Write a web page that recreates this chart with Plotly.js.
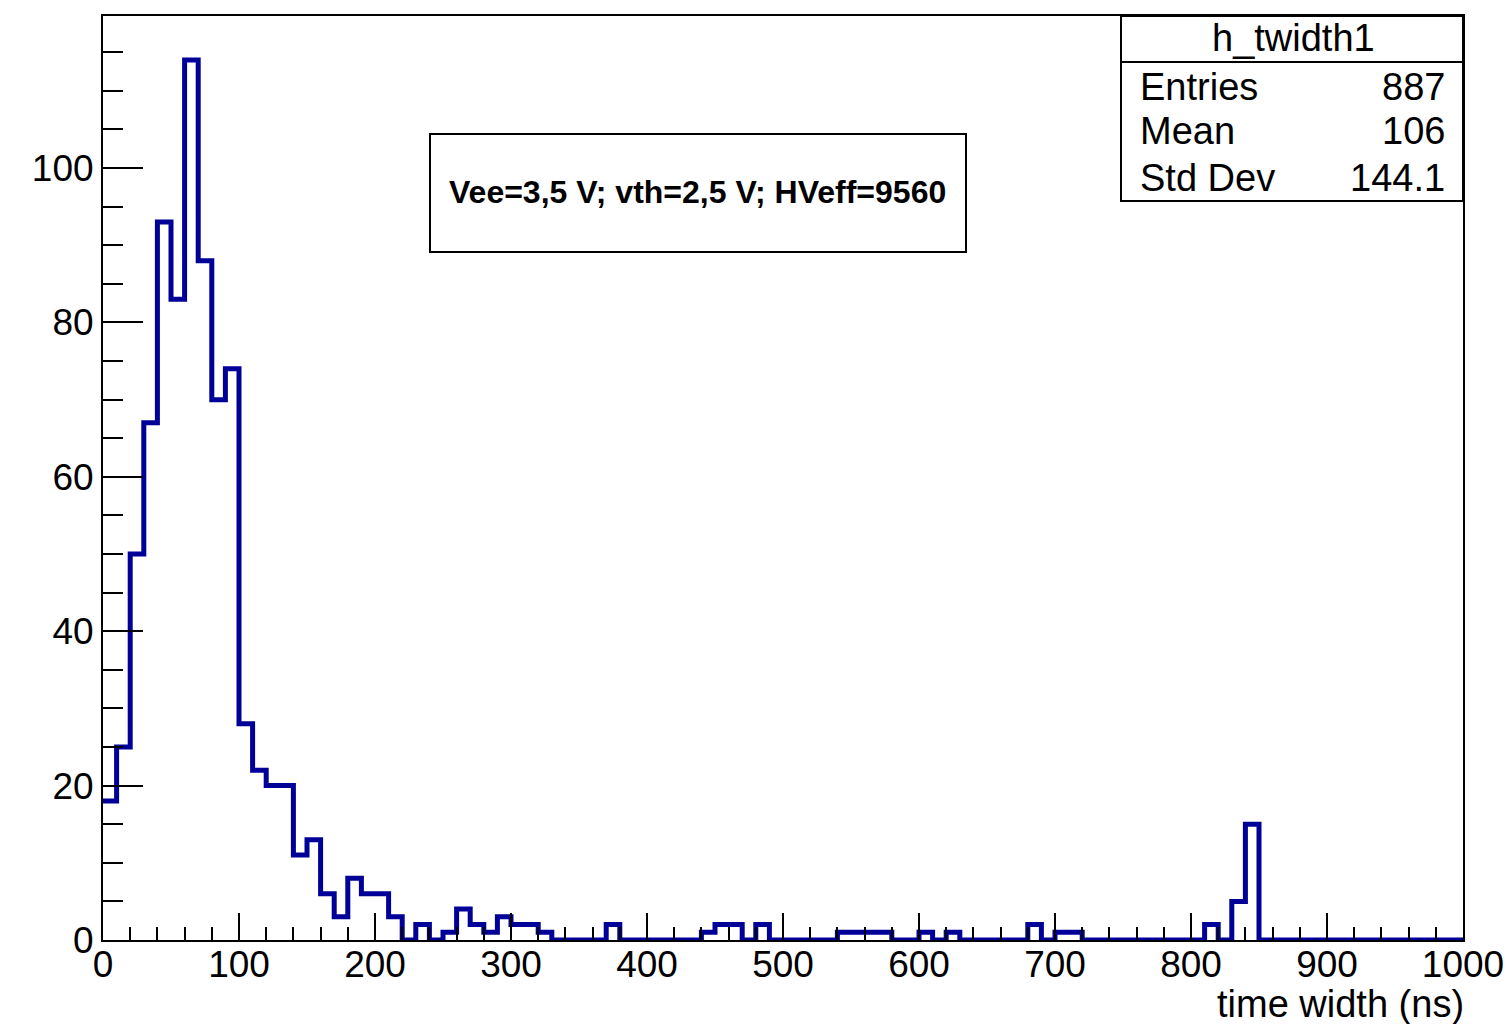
<!DOCTYPE html>
<html>
<head>
<meta charset="utf-8">
<script src="https://cdn.plot.ly/plotly-3.0.1.min.js"></script>
<style>
  html, body { margin: 0; padding: 0; background: #ffffff; }
  #chart { width: 1512px; height: 1024px; }
</style>
</head>
<body>
<div id="chart"></div>
<script>
const histName = "h_twidth1";
const binLow = 0;
const binWidth = 10;
const counts = [
  18, 25, 50, 67, 93, 83, 114, 88, 70, 74,   // 0-100
  28, 22, 20, 20, 11, 13, 6, 3, 8, 6,        // 100-200
  6, 3, 0, 2, 0, 1, 4, 2, 1, 3,              // 200-300
  2, 2, 1, 0, 0, 0, 0, 2, 0, 0,              // 300-400
  0, 0, 0, 0, 1, 2, 2, 0, 2, 0,              // 400-500
  0, 0, 0, 0, 1, 1, 1, 1, 0, 0,              // 500-600
  1, 0, 1, 0, 0, 0, 0, 0, 2, 0,              // 600-700
  1, 1, 0, 0, 0, 0, 0, 0, 0, 0,              // 700-800
  0, 2, 0, 5, 15, 0, 0, 0, 0, 0,             // 800-900
  0, 0, 0, 0, 0, 0, 0, 0, 0, 0               // 900-1000
];
const statLabels = ["Entries", "Mean", "Std Dev"];
const statValues = ["887", "106", "144.1"];
const xTitle = "time width (ns)";
const infoText = "Vee=3,5 V; vth=2,5 V; HVeff=9560";

// ---- Build step outline from bin edges ----
const edges = [];
const stepY = [];
for (let i = 0; i < counts.length; i++) {
  edges.push(binLow + i * binWidth);
  stepY.push(counts[i]);
}
edges.push(binLow + counts.length * binWidth);
stepY.push(counts[counts.length - 1]);

// ---- Layout geometry ----
const W = 1512, H = 1024;
const mL = 103, mR = 49, mT = 16, mB = 84;
const pw = W - mL - mR, ph = H - mT - mB;
const px = x => (x - mL) / pw;          // pixel -> paper x
const py = y => (H - mB - y) / ph;      // pixel -> paper y

const FONT = '"Liberation Sans", Arial, Helvetica, sans-serif';
const ymax = Math.max(...counts) * 1.05;

const trace = {
  type: 'scatter',
  mode: 'lines',
  x: edges,
  y: stepY,
  line: { shape: 'hv', color: '#000099', width: 5 },
  hoverinfo: 'skip',
  showlegend: false
};

const shapes = [
  // stats box
  { type: 'rect', xref: 'paper', yref: 'paper', x0: px(1121), x1: px(1463), y0: py(201), y1: py(16),
    line: { color: 'black', width: 2 }, fillcolor: 'white', layer: 'above' },
  { type: 'line', xref: 'paper', yref: 'paper', x0: px(1121), x1: px(1463), y0: py(62), y1: py(62),
    line: { color: 'black', width: 2 }, layer: 'above' },
  // info box
  { type: 'rect', xref: 'paper', yref: 'paper', x0: px(430), x1: px(966), y0: py(252), y1: py(134),
    line: { color: 'black', width: 2 }, fillcolor: 'white', layer: 'above' }
];

const annotations = [
  { xref: 'paper', yref: 'paper', x: px(1293), y: py(38), text: histName, showarrow: false,
    xanchor: 'center', yanchor: 'middle', font: { family: FONT, size: 38, color: 'black' } },
  { xref: 'paper', yref: 'paper', x: px(697), y: py(192), text: '<b>' + infoText + '</b>', showarrow: false,
    xanchor: 'center', yanchor: 'middle', font: { family: FONT, size: 32, color: 'black' } },
  { xref: 'paper', yref: 'paper', x: 1, y: py(1004), xshift: 2, text: xTitle, showarrow: false,
    xanchor: 'right', yanchor: 'middle', borderpad: 0, font: { family: FONT, size: 38, color: 'black' } }
];
const rowY = [87, 131, 178];
statLabels.forEach((lab, i) => {
  annotations.push({ xref: 'paper', yref: 'paper', x: px(1138), y: py(rowY[i]), text: lab, showarrow: false,
    xanchor: 'left', yanchor: 'middle', font: { family: FONT, size: 38, color: 'black' } });
  annotations.push({ xref: 'paper', yref: 'paper', x: px(1447), y: py(rowY[i]), text: statValues[i], showarrow: false,
    xanchor: 'right', yanchor: 'middle', font: { family: FONT, size: 38, color: 'black' } });
});

const layout = {
  width: W, height: H,
  margin: { l: mL, r: mR, t: mT, b: mB, pad: 0 },
  paper_bgcolor: 'white', plot_bgcolor: 'white',
  font: { family: FONT, size: 37, color: 'black' },
  showlegend: false,
  xaxis: {
    range: [binLow, binLow + counts.length * binWidth],
    tick0: 0, dtick: 100,
    ticks: 'inside', ticklen: 27, tickwidth: 2, tickcolor: 'black',
    minor: { dtick: 20, ticks: 'inside', ticklen: 13, tickwidth: 2, tickcolor: 'black', showgrid: false },
    showline: true, mirror: true, linecolor: 'black', linewidth: 2,
    showgrid: false, zeroline: false,
    ticklabelstandoff: -9,
    tickfont: { family: FONT, size: 37, color: 'black' }
  },
  yaxis: {
    range: [0, ymax],
    tick0: 0, dtick: 20,
    ticks: 'inside', ticklen: 40, tickwidth: 2, tickcolor: 'black',
    minor: { dtick: 5, ticks: 'inside', ticklen: 20, tickwidth: 2, tickcolor: 'black', showgrid: false },
    showline: true, mirror: true, linecolor: 'black', linewidth: 2,
    showgrid: false, zeroline: false,
    tickfont: { family: FONT, size: 37, color: 'black' }
  },
  shapes: shapes,
  annotations: annotations
};

Plotly.newPlot('chart', [trace], layout, { staticPlot: true, displayModeBar: false });
</script>
</body>
</html>
